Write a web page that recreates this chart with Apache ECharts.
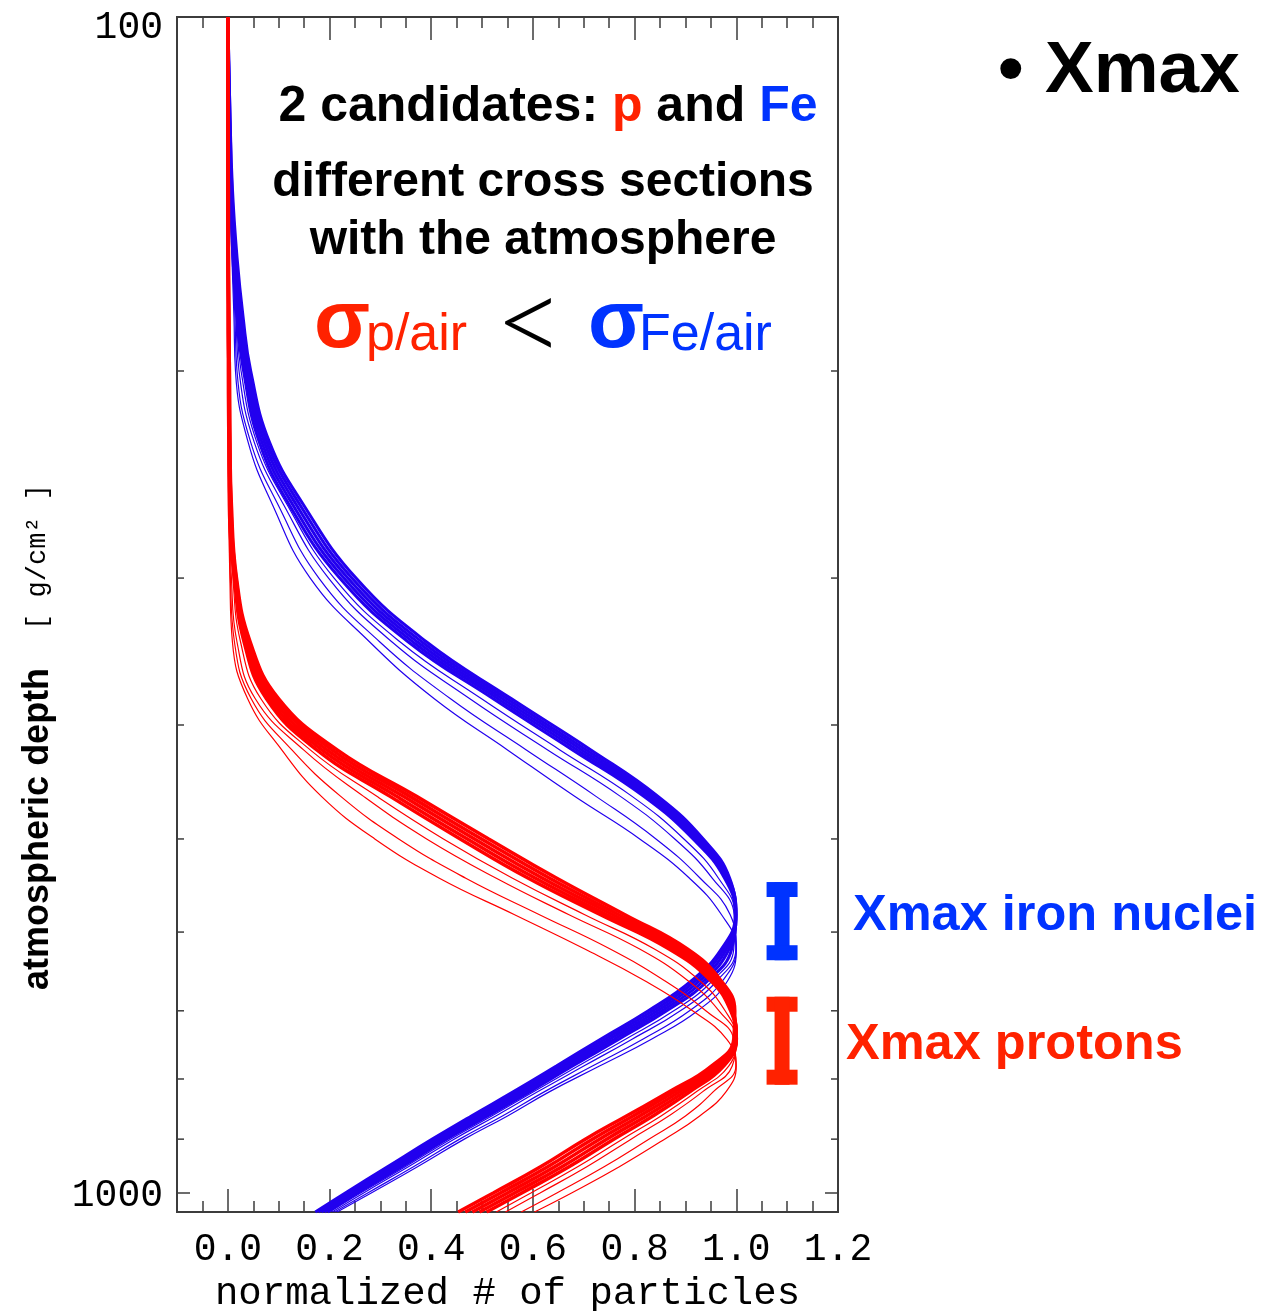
<!DOCTYPE html>
<html>
<head>
<meta charset="utf-8">
<script src="https://cdn.jsdelivr.net/npm/echarts@6/dist/echarts.min.js"></script>
<style>
  html, body { margin: 0; padding: 0; background: #ffffff; }
  #chart { width: 1268px; height: 1311px; }
</style>
</head>
<body>
<div id="chart"></div>
<script>
// Atmospheric depth samples (g/cm^2) shared by every shower profile
const depths = [100, 120, 140, 160, 180, 200, 230, 260, 300, 340, 380, 420, 460, 500,
                540, 580, 620, 660, 700, 740, 780, 820, 860, 900, 950, 1000, 1038];

// Iron showers: dense bundle ...
const ironEarly = [0.000, 0.004, 0.009, 0.018, 0.030, 0.045, 0.082, 0.149, 0.252, 0.391, 0.558, 0.714, 0.846, 0.935,
                   0.987, 0.998, 0.971, 0.912, 0.827, 0.733, 0.646, 0.562, 0.479, 0.402, 0.314, 0.231, 0.172];
const ironEarly2 = [0.000, 0.004, 0.008, 0.016, 0.027, 0.041, 0.077, 0.142, 0.244, 0.382, 0.549, 0.705, 0.839, 0.930,
                    0.985, 0.999, 0.976, 0.920, 0.836, 0.742, 0.654, 0.570, 0.487, 0.409, 0.321, 0.237, 0.178];
const ironMid   = [0.000, 0.003, 0.007, 0.014, 0.024, 0.038, 0.072, 0.135, 0.236, 0.373, 0.540, 0.696, 0.832, 0.925,
                   0.982, 1.000, 0.981, 0.928, 0.845, 0.751, 0.662, 0.578, 0.495, 0.416, 0.328, 0.243, 0.184];
const ironLate2 = [0.000, 0.003, 0.006, 0.012, 0.021, 0.035, 0.067, 0.128, 0.228, 0.364, 0.531, 0.687, 0.825, 0.920,
                   0.980, 0.999, 0.986, 0.936, 0.854, 0.760, 0.670, 0.586, 0.503, 0.423, 0.335, 0.249, 0.190];
const ironLate  = [0.000, 0.002, 0.005, 0.010, 0.018, 0.031, 0.062, 0.121, 0.220, 0.355, 0.522, 0.678, 0.818, 0.915,
                   0.977, 0.998, 0.991, 0.944, 0.863, 0.769, 0.678, 0.594, 0.511, 0.430, 0.342, 0.255, 0.196];
// ... and the slower-developing iron showers
const ironSlow0 = [0.000, 0.002, 0.005, 0.010, 0.017, 0.026, 0.057, 0.117, 0.209, 0.339, 0.499, 0.653, 0.795, 0.897,
                   0.965, 0.997, 0.995, 0.953, 0.877, 0.782, 0.689, 0.602, 0.519, 0.438, 0.349, 0.261, 0.200];
const ironSlow1 = [0.000, 0.002, 0.005, 0.010, 0.016, 0.022, 0.052, 0.110, 0.198, 0.323, 0.476, 0.629, 0.772, 0.879,
                   0.953, 0.996, 0.999, 0.962, 0.890, 0.795, 0.700, 0.610, 0.527, 0.445, 0.355, 0.267, 0.205];
const ironSlow2 = [0.000, 0.002, 0.004, 0.009, 0.014, 0.018, 0.045, 0.099, 0.179, 0.299, 0.438, 0.587, 0.724, 0.842,
                   0.929, 0.988, 1.000, 0.973, 0.908, 0.816, 0.717, 0.623, 0.540, 0.456, 0.365, 0.275, 0.210];
const ironSlow3 = [0.000, 0.002, 0.004, 0.008, 0.012, 0.015, 0.040, 0.088, 0.162, 0.279, 0.406, 0.550, 0.682, 0.810,
                   0.908, 0.971, 1.000, 0.983, 0.924, 0.833, 0.731, 0.633, 0.550, 0.465, 0.373, 0.282, 0.215];

// Proton showers: dense bundle ...
const protonEarly  = [0.000, 0.000, 0.001, 0.001, 0.002, 0.003, 0.004, 0.007, 0.017, 0.044, 0.100, 0.215, 0.371, 0.513,
                      0.647, 0.781, 0.903, 0.970, 0.997, 0.995, 0.951, 0.869, 0.784, 0.703, 0.615, 0.522, 0.453];
const protonEarly2 = [0.000, 0.000, 0.001, 0.001, 0.002, 0.003, 0.004, 0.006, 0.016, 0.041, 0.094, 0.205, 0.358, 0.499,
                      0.633, 0.769, 0.894, 0.965, 0.995, 0.998, 0.957, 0.879, 0.797, 0.717, 0.629, 0.536, 0.467];
const protonMid    = [0.000, 0.000, 0.000, 0.001, 0.001, 0.002, 0.003, 0.005, 0.015, 0.038, 0.088, 0.195, 0.345, 0.485,
                      0.619, 0.757, 0.885, 0.960, 0.993, 1.000, 0.963, 0.889, 0.810, 0.731, 0.643, 0.550, 0.481];
const protonLate2  = [0.000, 0.000, 0.000, 0.001, 0.001, 0.002, 0.003, 0.004, 0.014, 0.035, 0.082, 0.185, 0.332, 0.471,
                      0.605, 0.745, 0.876, 0.955, 0.991, 1.000, 0.969, 0.899, 0.823, 0.745, 0.657, 0.564, 0.495];
const protonLate   = [0.000, 0.000, 0.000, 0.000, 0.001, 0.001, 0.002, 0.003, 0.013, 0.032, 0.076, 0.175, 0.319, 0.457,
                      0.591, 0.733, 0.867, 0.950, 0.989, 1.000, 0.975, 0.909, 0.836, 0.759, 0.671, 0.578, 0.509];
// ... and the deeper-penetrating protons
const protonSlow0 = [0.000, 0.000, 0.000, 0.000, 0.001, 0.001, 0.002, 0.003, 0.010, 0.025, 0.065, 0.162, 0.293, 0.424,
                     0.560, 0.702, 0.838, 0.928, 0.978, 1.000, 0.985, 0.922, 0.852, 0.776, 0.688, 0.596, 0.528];
const protonSlow1 = [0.000, 0.000, 0.000, 0.000, 0.001, 0.001, 0.002, 0.003, 0.007, 0.018, 0.054, 0.149, 0.267, 0.391,
                     0.528, 0.671, 0.809, 0.905, 0.966, 0.999, 0.992, 0.934, 0.867, 0.793, 0.706, 0.614, 0.546];
const protonSlow2 = [0.000, 0.000, 0.000, 0.000, 0.000, 0.001, 0.001, 0.002, 0.005, 0.013, 0.046, 0.126, 0.222, 0.336,
                     0.468, 0.613, 0.751, 0.859, 0.940, 0.995, 0.999, 0.955, 0.900, 0.828, 0.740, 0.647, 0.577];
const protonSlow3 = [0.000, 0.000, 0.000, 0.000, 0.000, 0.001, 0.001, 0.002, 0.004, 0.009, 0.039, 0.106, 0.184, 0.289,
                     0.416, 0.564, 0.701, 0.820, 0.914, 0.981, 1.000, 0.980, 0.928, 0.859, 0.770, 0.676, 0.603];

// Axis ticks
const xMajorTicks = [0.0, 0.2, 0.4, 0.6, 0.8, 1.0, 1.2];
const xMinorTicks = [-0.05, 0.05, 0.1, 0.15, 0.25, 0.3, 0.35, 0.45, 0.5, 0.55, 0.65, 0.7, 0.75,
                     0.85, 0.9, 0.95, 1.05, 1.1, 1.15];
const depthLabels = [100, 1000];
const depthMinorTicks = [200, 300, 400, 500, 600, 700, 800, 900];

// Xmax spread markers (depth ranges) placed right of the profiles
const xmaxMarkerX = 1.09;
const ironXmaxRange = [544, 634];
const protonXmaxRange = [681, 809];

const X_MIN = -0.1, X_MAX = 1.2, D_MIN = 100, D_MAX = 1038;
const FRAME = '#3c3c3c';
const BLUE = '#2200ee', RED = '#ff0000';
const TXT_BLUE = '#0033ff', TXT_RED = '#ff2200';
const MONO = '"Liberation Mono", "Courier New", monospace';
const SANS = '"Liberation Sans", Arial, Helvetica, sans-serif';

function profile(values) {
  return depths.map((d, i) => [values[i], d]);
}

function lineSeries(name, values, color, width, z) {
  return {
    name: name,
    type: 'line',
    data: profile(values),
    smooth: 0.45,
    symbol: 'none',
    showSymbol: false,
    silent: true,
    z: z,
    lineStyle: { color: color, width: width },
    emphasis: { disabled: true }
  };
}

function xAxisDef(position, ticks, len, withLabels) {
  return {
    type: 'value',
    gridIndex: 0,
    position: position,
    min: X_MIN,
    max: X_MAX,
    axisLine: { show: true, onZero: false, lineStyle: { color: FRAME, width: 2 } },
    axisTick: { show: true, inside: true, length: len, customValues: ticks,
                lineStyle: { color: FRAME, width: 1.5 } },
    axisLabel: withLabels ? {
      show: true, customValues: xMajorTicks, margin: 19,
      formatter: v => v.toFixed(1),
      fontFamily: MONO, fontSize: 38, color: '#000'
    } : { show: false },
    splitLine: { show: false },
    name: withLabels ? 'normalized # of particles' : '',
    nameLocation: 'middle',
    nameGap: 61,
    nameTextStyle: { fontFamily: MONO, fontSize: 39, color: '#000' }
  };
}

function yAxisDef(position, withLabels) {
  return {
    type: 'log',
    logBase: 10,
    gridIndex: 0,
    position: position,
    inverse: true,
    min: D_MIN,
    max: D_MAX,
    axisLine: { show: true, onZero: false, lineStyle: { color: FRAME, width: 2 } },
    axisTick: { show: true, inside: true, length: 13, lineStyle: { color: FRAME, width: 1.5 } },
    minorTick: { show: false },
    splitLine: { show: false },
    axisLabel: withLabels ? {
      show: true,
      margin: 14,
      fontFamily: MONO, fontSize: 38, color: '#000',
      formatter: v => {
        const n = Math.round(v);
        if (depthLabels.indexOf(n) < 0) return '';
        return n === depthLabels[0] ? '{top|' + n + '}' : '{bot|' + n + '}';
      },
      rich: {
        top: { fontFamily: MONO, fontSize: 38, color: '#000', padding: [22, 0, 0, 0] },
        bot: { fontFamily: MONO, fontSize: 38, color: '#000', padding: [6, 0, 0, 0] }
      }
    } : { show: false }
  };
}

const chart = echarts.init(document.getElementById('chart'), null, { renderer: 'canvas' });

const series = [
  lineSeries('Fe slow 3', ironSlow3, BLUE, 1.2, 2),
  lineSeries('Fe slow 2', ironSlow2, BLUE, 1.2, 2),
  lineSeries('Fe slow 1', ironSlow1, BLUE, 1.2, 2),
  lineSeries('Fe slow 0', ironSlow0, BLUE, 1.2, 2),
  lineSeries('Fe late', ironLate, BLUE, 3, 2),
  lineSeries('Fe late 2', ironLate2, BLUE, 3, 2),
  lineSeries('Fe mid', ironMid, BLUE, 3, 2),
  lineSeries('Fe early 2', ironEarly2, BLUE, 3, 2),
  lineSeries('Fe early', ironEarly, BLUE, 3, 2),
  lineSeries('p slow 3', protonSlow3, RED, 1.2, 3),
  lineSeries('p slow 2', protonSlow2, RED, 1.2, 3),
  lineSeries('p slow 1', protonSlow1, RED, 1.2, 3),
  lineSeries('p slow 0', protonSlow0, RED, 1.2, 3),
  lineSeries('p late', protonLate, RED, 3.5, 3),
  lineSeries('p late 2', protonLate2, RED, 3.5, 3),
  lineSeries('p mid', protonMid, RED, 3.5, 3),
  lineSeries('p early 2', protonEarly2, RED, 3.5, 3),
  lineSeries('p early', protonEarly, RED, 3.5, 3),
  {
    // minor depth ticks on the left and right frame
    type: 'custom',
    xAxisIndex: 0,
    yAxisIndex: 0,
    silent: true,
    z: 5,
    data: depthMinorTicks.map(d => [X_MIN, d]),
    encode: { x: 0, y: 1 },
    renderItem: (params, api) => {
      const d = api.value(1);
      const l = api.coord([X_MIN, d]);
      const r = api.coord([X_MAX, d]);
      const st = { stroke: FRAME, lineWidth: 1.5 };
      return {
        type: 'group',
        children: [
          { type: 'line', shape: { x1: l[0], y1: l[1], x2: l[0] + 7, y2: l[1] }, style: st },
          { type: 'line', shape: { x1: r[0] - 7, y1: r[1], x2: r[0], y2: r[1] }, style: st }
        ]
      };
    }
  },
  {
    // Xmax spread markers
    type: 'custom',
    xAxisIndex: 0,
    yAxisIndex: 0,
    silent: true,
    clip: false,
    z: 5,
    data: [[xmaxMarkerX, ironXmaxRange[0], ironXmaxRange[1], 0],
           [xmaxMarkerX, protonXmaxRange[0], protonXmaxRange[1], 1]],
    encode: { x: 0, y: [1, 2] },
    renderItem: (params, api) => {
      const top = api.coord([api.value(0), api.value(1)]);
      const bot = api.coord([api.value(0), api.value(2)]);
      const color = api.value(3) === 0 ? TXT_BLUE : TXT_RED;
      const cx = top[0], fw = 31, fh = 15, sw = 15;
      return {
        type: 'group',
        children: [
          { type: 'rect', shape: { x: cx - fw / 2, y: top[1], width: fw, height: fh }, style: { fill: color } },
          { type: 'rect', shape: { x: cx - sw / 2, y: top[1], width: sw, height: bot[1] - top[1] }, style: { fill: color } },
          { type: 'rect', shape: { x: cx - fw / 2, y: bot[1] - fh, width: fw, height: fh }, style: { fill: color } }
        ]
      };
    }
  }
];

const option = {
  animation: false,
  backgroundColor: '#ffffff',
  grid: { left: 177, top: 17, width: 661, height: 1195, containLabel: false, outerBoundsMode: 'none' },
  xAxis: [
    xAxisDef('bottom', xMajorTicks, 23, true),
    xAxisDef('bottom', xMinorTicks, 11, false),
    xAxisDef('top', xMajorTicks, 23, false),
    xAxisDef('top', xMinorTicks, 11, false)
  ],
  yAxis: [
    yAxisDef('left', true),
    yAxisDef('right', false)
  ],
  series: series,
  graphic: [
    {
      type: 'text', x: 548, y: 107, silent: true,
      style: {
        text: '{k|2 candidates: }{r|p}{k| and }{b|Fe}',
        align: 'center', verticalAlign: 'middle',
        rich: {
          k: { fontFamily: SANS, fontWeight: 'bold', fontSize: 50, fill: '#000' },
          r: { fontFamily: SANS, fontWeight: 'bold', fontSize: 50, fill: TXT_RED },
          b: { fontFamily: SANS, fontWeight: 'bold', fontSize: 50, fill: TXT_BLUE }
        }
      }
    },
    {
      type: 'text', x: 543, y: 183, silent: true,
      style: { text: 'different cross sections', align: 'center', verticalAlign: 'middle',
               font: 'bold 48px ' + SANS, fill: '#000' }
    },
    {
      type: 'text', x: 543, y: 241, silent: true,
      style: { text: 'with the atmosphere', align: 'center', verticalAlign: 'middle',
               font: 'bold 48px ' + SANS, fill: '#000' }
    },
    {
      type: 'text', x: 314, y: 324, silent: true,
      style: { text: 'σ', align: 'left', verticalAlign: 'middle', font: 'bold 82px ' + SANS, fill: TXT_RED }
    },
    {
      type: 'text', x: 366, y: 336, silent: true,
      style: { text: 'p/air', align: 'left', verticalAlign: 'middle', font: '52px ' + SANS, fill: TXT_RED }
    },
    {
      type: 'text', x: 530, y: 325, silent: true,
      style: { text: '<', align: 'center', verticalAlign: 'middle', font: '300 122px Lato, ' + SANS, fill: '#000' }
    },
    {
      type: 'text', x: 588, y: 324, silent: true,
      style: { text: 'σ', align: 'left', verticalAlign: 'middle', font: 'bold 82px ' + SANS, fill: TXT_BLUE }
    },
    {
      type: 'text', x: 639, y: 336, silent: true,
      style: { text: 'Fe/air', align: 'left', verticalAlign: 'middle', font: '52px ' + SANS, fill: TXT_BLUE }
    },
    {
      type: 'text', x: 853, y: 916, silent: true,
      style: { text: 'Xmax iron nuclei', align: 'left', verticalAlign: 'middle',
               font: 'bold 50.5px ' + SANS, fill: TXT_BLUE }
    },
    {
      type: 'text', x: 846, y: 1045, silent: true,
      style: { text: 'Xmax protons', align: 'left', verticalAlign: 'middle',
               font: 'bold 50.5px ' + SANS, fill: TXT_RED }
    },
    {
      type: 'text', x: 998, y: 72, silent: true,
      style: { text: '•', align: 'left', verticalAlign: 'middle', font: 'bold 73px ' + SANS, fill: '#000' }
    },
    {
      type: 'text', x: 1045, y: 72, silent: true,
      style: { text: 'Xmax', align: 'left', verticalAlign: 'middle', font: 'bold 73px ' + SANS, fill: '#000' }
    },
    {
      type: 'text', x: 38, y: 737, rotation: Math.PI / 2, silent: true,
      style: {
        text: '{a|atmospheric depth}{s|}{b|[ g/cm² ]}',
        align: 'center', verticalAlign: 'middle',
        rich: {
          a: { fontFamily: SANS, fontWeight: 'bold', fontSize: 36, fill: '#000' },
          s: { width: 38 },
          b: { fontFamily: MONO, fontSize: 27, fill: '#000' }
        }
      }
    }
  ]
};

chart.setOption(option);
</script>
</body>
</html>
